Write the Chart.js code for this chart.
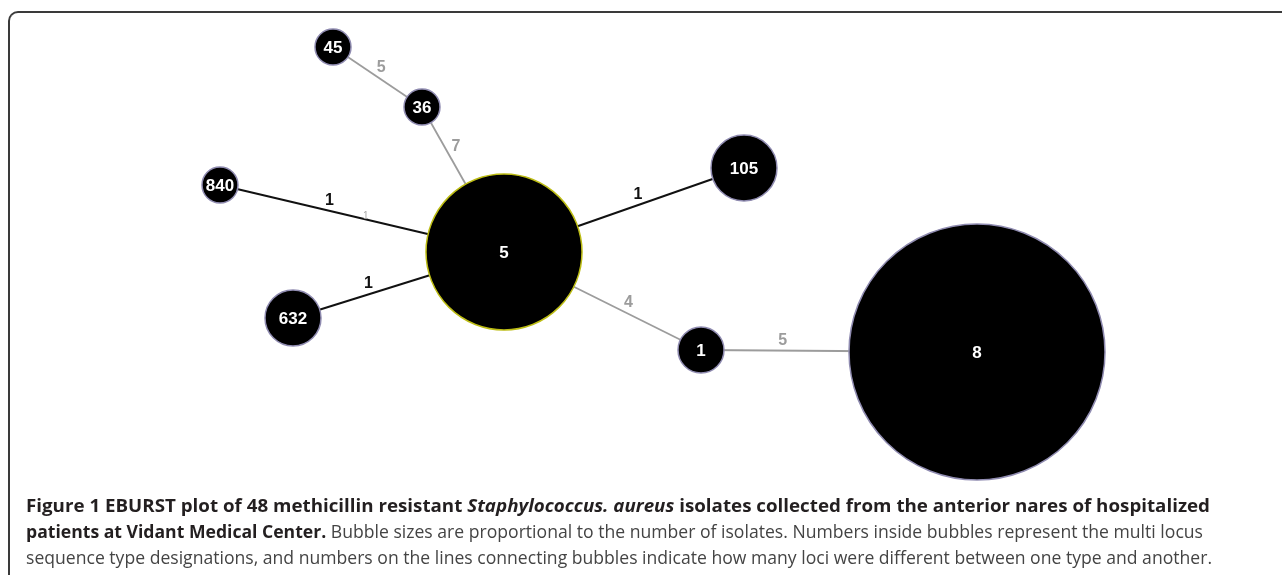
<!DOCTYPE html>
<html>
<head>
<meta charset="utf-8">
<script src="https://cdn.jsdelivr.net/npm/chart.js@4.4.1/dist/chart.umd.min.js"></script>
<style>
  html, body { margin: 0; padding: 0; background: #fff; }
  #wrap { position: relative; width: 1282px; height: 575px; overflow: hidden; }
  #frame {
    position: absolute; left: 8px; top: 11px; width: 1290px; height: 580px;
    border-left: 2px solid #3a3a3a; border-top: 2px solid #3a3a3a;
    border-top-left-radius: 10px; box-sizing: border-box;
  }
  #eburst { position: absolute; left: 0; top: 0; }
  .cap {
    position: absolute; left: 26px; white-space: nowrap;
    font-family: "Open Sans", "Noto Sans", sans-serif; font-size: 17.5px;
    line-height: 26px; color: #444444; transform-origin: 0 0;
  }
  .cap b { color: #231f20; font-weight: 700; }
</style>
</head>
<body>
<div id="wrap">
  <div id="frame"></div>
  <canvas id="eburst" width="1282" height="575"></canvas>
  <div class="cap" id="cap1" data-w="1184" style="top:492px"><b>Figure 1 EBURST plot of 48 methicillin resistant <i>Staphylococcus. aureus</i> isolates collected from the anterior nares of hospitalized</b></div>
  <div class="cap" id="cap2" data-w="1177" style="top:518px"><b>patients at Vidant Medical Center.</b> Bubble sizes are proportional to the number of isolates. Numbers inside bubbles represent the multi locus</div>
  <div class="cap" id="cap3" data-w="1186" style="top:544px">sequence type designations, and numbers on the lines connecting bubbles indicate how many loci were different between one type and another.</div>
</div>
<script>
// sequence types (nodes) - layout position from the eBURST picture, isolate count
const stLabels = ['45', '36', '840', '5', '632', '105', '1', '8'];
const stX = [333, 422, 220, 504, 293, 744, 701, 977];
const stY = [47, 107, 185, 252, 318, 168, 350, 352];
const isolates = [1, 1, 1, 13, 3, 4, 2, 23];

// links between types and number of differing loci
const linkFrom = ['45', '36', '840', '632', '5', '5', '1'];
const linkTo = ['36', '5', '5', '5', '105', '1', '8'];
const lociDiff = [5, 7, 1, 1, 1, 4, 5];

const W = 1282, H = 575;
const nodeFont = 'bold 17px "Liberation Sans", Arial, sans-serif';
const linkFont = 'bold 16px "Liberation Sans", Arial, sans-serif';

function radiusOf(n) { return 13 + 5 * n; }
function idx(st) { return stLabels.indexOf(st); }
function linkColor(d) { return d === 1 ? '#111111' : '#9c9c9c'; }

const linkSets = linkFrom.map(function (f, i) {
  const a = idx(f), b = idx(linkTo[i]);
  return {
    type: 'line',
    data: [{ x: stX[a], y: stY[a] }, { x: stX[b], y: stY[b] }],
    borderColor: linkColor(lociDiff[i]),
    borderWidth: lociDiff[i] === 1 ? 2 : 1.8,
    pointRadius: 0,
    fill: false,
    order: 2
  };
});

const nodeSet = {
  type: 'bubble',
  data: stLabels.map(function (s, i) {
    return { x: stX[i], y: stY[i], r: radiusOf(isolates[i]) };
  }),
  backgroundColor: '#000000',
  borderColor: stLabels.map(function (s) { return s === '5' ? '#bcbc14' : '#8f8bb0'; }),
  borderWidth: 1.5,
  order: 1
};

// label the bubbles and the links
const labelPlugin = {
  id: 'labels',
  afterDatasetsDraw: function (chart) {
    const c = chart.ctx, xs = chart.scales.x, ys = chart.scales.y;
    c.save();
    c.textAlign = 'center';
    c.textBaseline = 'middle';

    linkFrom.forEach(function (f, i) {
      const a = idx(f), b = idx(linkTo[i]);
      const x1 = xs.getPixelForValue(stX[a]), y1 = ys.getPixelForValue(stY[a]);
      const x2 = xs.getPixelForValue(stX[b]), y2 = ys.getPixelForValue(stY[b]);
      const len = Math.hypot(x2 - x1, y2 - y1);
      const ux = (x2 - x1) / len, uy = (y2 - y1) / len;
      const r1 = radiusOf(isolates[a]), r2 = radiusOf(isolates[b]);
      const sx = x1 + ux * r1, sy = y1 + uy * r1;
      const ex = x2 - ux * r2, ey = y2 - uy * r2;
      // perpendicular pointing upward
      let px = uy, py = -ux;
      if (py > 0) { px = -px; py = -py; }
      const t = 0.47;
      const lx = sx + (ex - sx) * t + px * 10;
      const ly = sy + (ey - sy) * t + py * 10;
      c.font = linkFont;
      c.fillStyle = linkColor(lociDiff[i]);
      c.fillText(String(lociDiff[i]), lx, ly);
      // the original has a faint duplicate label on the 840 link
      if (f === '840') {
        c.font = '10px "Liberation Sans", sans-serif';
        c.fillStyle = '#a8a8a8';
        c.fillText(String(lociDiff[i]), sx + (ex - sx) * 0.67 + px * 3, sy + (ey - sy) * 0.67 + py * 3);
      }
    });

    c.font = nodeFont;
    c.fillStyle = '#ffffff';
    stLabels.forEach(function (s, i) {
      c.fillText(s, xs.getPixelForValue(stX[i]), ys.getPixelForValue(stY[i]) + 1);
    });
    c.restore();
  }
};

new Chart(document.getElementById('eburst'), {
  type: 'bubble',
  data: { datasets: linkSets.concat([nodeSet]) },
  options: {
    responsive: false,
    animation: false,
    events: [],
    layout: { padding: 0, autoPadding: false },
    plugins: { legend: { display: false }, tooltip: { enabled: false } },
    scales: {
      x: { type: 'linear', min: 0, max: W, display: false },
      y: { type: 'linear', min: 0, max: H, reverse: true, display: false }
    }
  },
  plugins: [labelPlugin]
});

// stretch each caption line to the width it has in the figure
document.querySelectorAll('.cap').forEach(function (el) {
  const target = Number(el.dataset.w);
  const w = el.getBoundingClientRect().width;
  el.style.transform = 'scaleX(' + (target / w) + ')';
});
</script>
</body>
</html>
